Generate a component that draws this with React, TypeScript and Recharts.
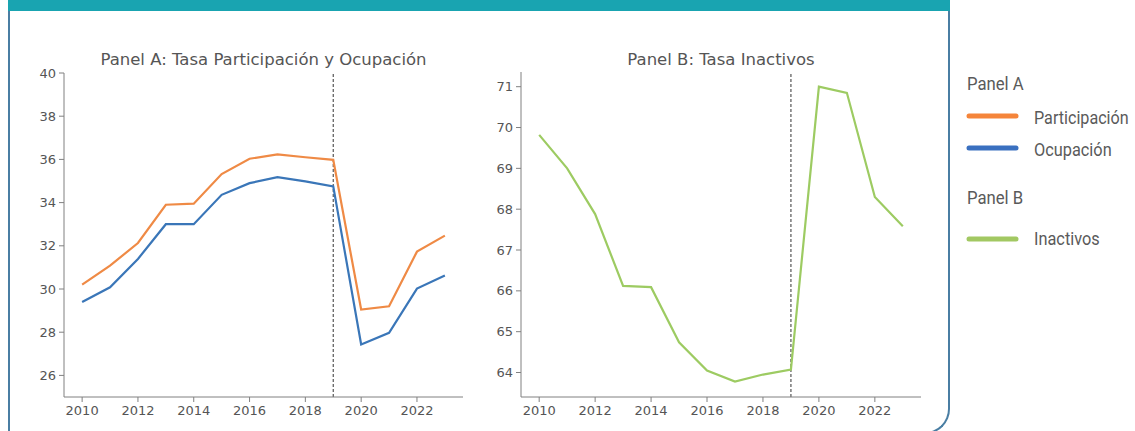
import React from "react";
import { LineChart, Line, XAxis, YAxis, ReferenceLine } from "recharts";

const years = [2010, 2011, 2012, 2013, 2014, 2015, 2016, 2017, 2018, 2019, 2020, 2021, 2022, 2023];
const participacion = [30.2, 31.08, 32.13, 33.9, 33.95, 35.32, 36.03, 36.23, 36.1, 35.98, 29.05, 29.2, 31.73, 32.47];
const ocupacion = [29.4, 30.08, 31.39, 33.0, 33.0, 34.36, 34.9, 35.18, 34.98, 34.75, 27.43, 27.97, 30.02, 30.62];
const inactivos = [69.82, 69.0, 67.88, 66.12, 66.09, 64.74, 64.05, 63.78, 63.95, 64.07, 71.0, 70.85, 68.3, 67.58];

const xTicks = [2010, 2012, 2014, 2016, 2018, 2020, 2022];
const yTicksA = [26, 28, 30, 32, 34, 36, 38, 40];
const yTicksB = [64, 65, 66, 67, 68, 69, 70, 71];
const breakYear = 2019;

const titleA = "Panel A: Tasa Participación y Ocupación";
const titleB = "Panel B: Tasa Inactivos";

const dataA = years.map((y, i) => ({ year: y, participacion: participacion[i], ocupacion: ocupacion[i] }));
const dataB = years.map((y, i) => ({ year: y, inactivos: inactivos[i] }));

const ORANGE = "#ef8a45";
const BLUE = "#3a76b8";
const GREEN = "#9dcb62";
const TEXT = "#555555";
const AXIS = "#808080";
const FONT = "DejaVu Sans, sans-serif";

function XTick(props: any) {
  const { x, y, payload } = props;
  return (
    <text x={x} y={y + 13} textAnchor="middle" fill={TEXT} fontSize={13} fontFamily={FONT}>
      {payload.value}
    </text>
  );
}

function YTick(props: any) {
  const { x, y, payload } = props;
  return (
    <text x={x} y={y + 4.5} textAnchor="end" fill={TEXT} fontSize={13} fontFamily={FONT}>
      {payload.value}
    </text>
  );
}

export default function App() {
  return (
    <div style={{ position: "absolute", left: 0, top: 0, width: 1135, height: 431, overflow: "hidden", background: "#fff" }}>
      <div
        style={{
          position: "absolute",
          left: 8,
          top: 0,
          width: 938,
          height: 432,
          borderLeft: "2px solid #4a7ea3",
          borderRight: "2px solid #4a7ea3",
          borderBottom: "2px solid #4a7ea3",
          borderBottomRightRadius: 25,
        }}
      />
      <div style={{ position: "absolute", left: 8, top: 0, width: 942, height: 11, background: "#19a4b1" }} />

      <div style={{ position: "absolute", left: 0, top: 0 }}>
        <LineChart width={480} height={431} data={dataA} margin={{ top: 73, right: 17, bottom: 4, left: 0 }}>
          <XAxis
            dataKey="year"
            type="number"
            domain={[2009.35, 2023.65]}
            ticks={xTicks}
            allowDataOverflow
            height={30}
            stroke={AXIS}
            tick={<XTick />}
            tickSize={5}
            tickMargin={0}
          />
          <YAxis
            type="number"
            domain={[25, 40]}
            ticks={yTicksA}
            allowDataOverflow
            width={64}
            stroke={AXIS}
            tick={<YTick />}
            tickSize={5}
            tickMargin={3}
          />
          <ReferenceLine x={breakYear} stroke="#555" strokeDasharray="3 2" strokeWidth={1.2} />
          <Line type="linear" dataKey="participacion" stroke={ORANGE} strokeWidth={2.2} dot={false} isAnimationActive={false} />
          <Line type="linear" dataKey="ocupacion" stroke={BLUE} strokeWidth={2.2} dot={false} isAnimationActive={false} />
        </LineChart>
      </div>

      <div style={{ position: "absolute", left: 457, top: 0 }}>
        <LineChart width={480} height={431} data={dataB} margin={{ top: 72, right: 16, bottom: 4, left: 0 }}>
          <XAxis
            dataKey="year"
            type="number"
            domain={[2009.35, 2023.65]}
            ticks={xTicks}
            allowDataOverflow
            height={30}
            stroke={AXIS}
            tick={<XTick />}
            tickSize={5}
            tickMargin={0}
          />
          <YAxis
            type="number"
            domain={[63.4, 71.36]}
            ticks={yTicksB}
            allowDataOverflow
            width={64}
            stroke={AXIS}
            tick={<YTick />}
            tickSize={5}
            tickMargin={3}
          />
          <ReferenceLine x={breakYear} stroke="#555" strokeDasharray="3 2" strokeWidth={1.2} />
          <Line type="linear" dataKey="inactivos" stroke={GREEN} strokeWidth={2.2} dot={false} isAnimationActive={false} />
        </LineChart>
      </div>

      <svg width={1135} height={431} style={{ position: "absolute", left: 0, top: 0, pointerEvents: "none" }}>
        <text x={263.5} y={65} textAnchor="middle" fill={TEXT} fontSize={16.5} fontFamily={FONT}>
          {titleA}
        </text>
        <text x={721} y={65} textAnchor="middle" fill={TEXT} fontSize={16.5} fontFamily={FONT}>
          {titleB}
        </text>

        <g fontFamily="Roboto, sans-serif" fontSize={19} fill="#5a5a5a">
          <text transform="translate(967,90) scale(0.88,1)">Panel A</text>
          <line x1={969} y1={116} x2={1016} y2={116} stroke="#f5853a" strokeWidth={5} strokeLinecap="round" />
          <text transform="translate(1034,124) scale(0.85,1)">Participación</text>
          <line x1={969} y1={148} x2={1016} y2={148} stroke="#3a70c0" strokeWidth={5} strokeLinecap="round" />
          <text transform="translate(1034,156) scale(0.86,1)">Ocupación</text>
          <text transform="translate(967,204) scale(0.88,1)">Panel B</text>
          <line x1={969} y1={239} x2={1016} y2={239} stroke="#a2c862" strokeWidth={5} strokeLinecap="round" />
          <text transform="translate(1034,245) scale(0.86,1)">Inactivos</text>
        </g>
      </svg>
    </div>
  );
}
